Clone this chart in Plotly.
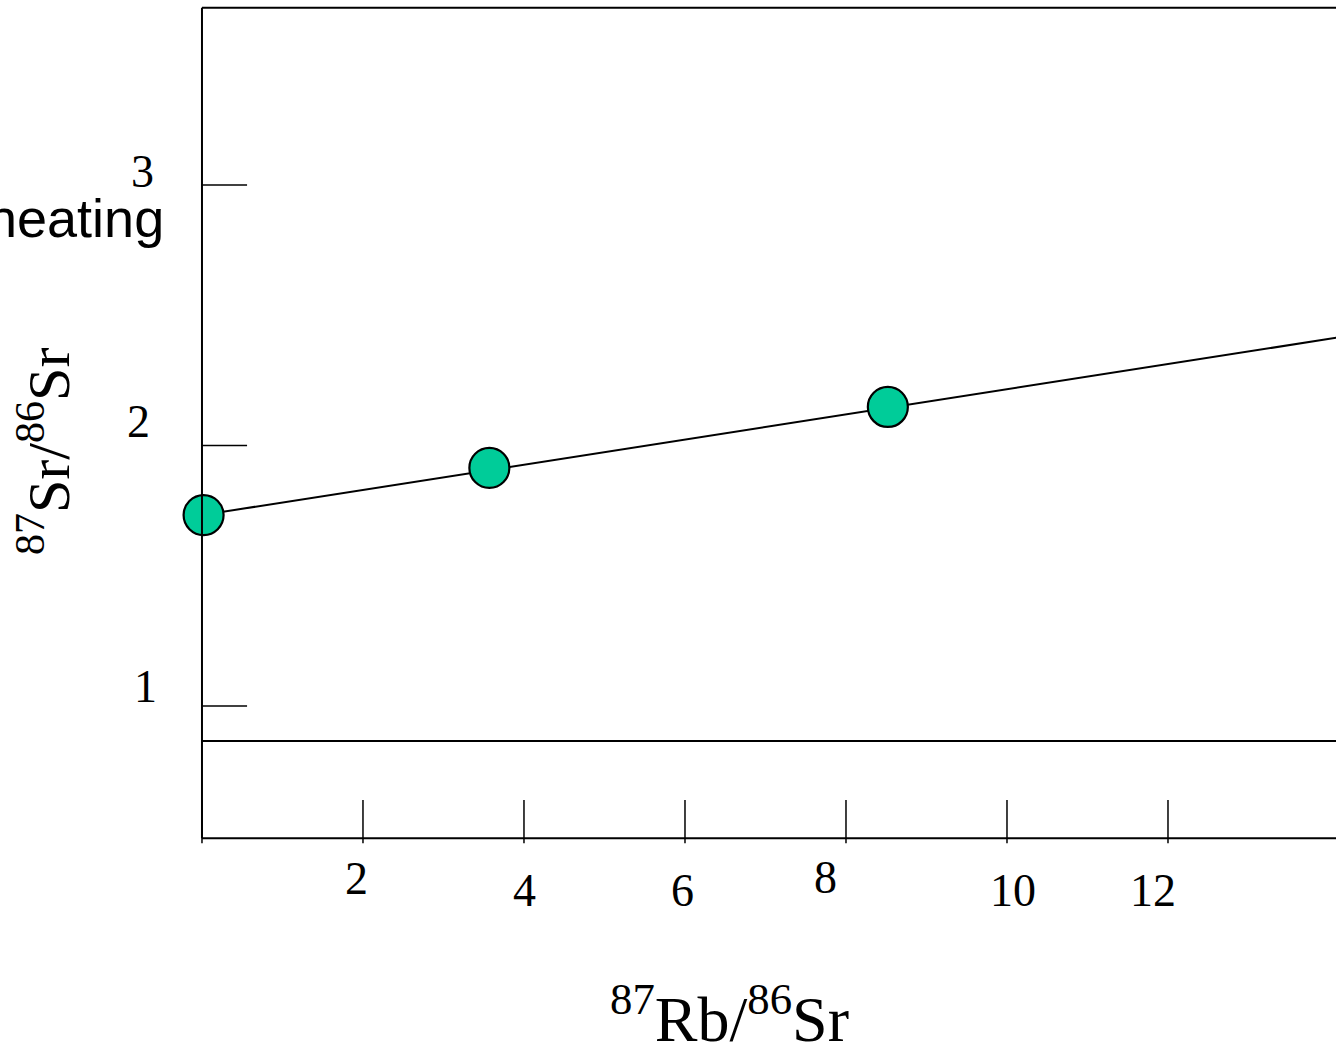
import plotly.graph_objects as go

# Data
sample_rb = [0.02, 3.57, 8.52]          # 87Rb/86Sr
sample_sr = [1.733, 1.914, 2.148]       # 87Sr/86Sr
fit_rb = [0.0, 14.1]
fit_sr = [1.733, 2.414]

x_tick_values = [0, 2, 4, 6, 8, 10, 12]
x_label_values = [2, 4, 6, 8, 10, 12]
x_label_text = ["2", "4", "6", "8", "10", "12"]
y_tick_values = [1, 2, 3]
y_label_text = ["1", "2", "3"]

# frame levels
x_axis_level = 0.493
mid_line_level = 0.866
top_level = 3.68
x_right = 14.2

# layout offsets (pixels) of the hand-placed labels
x_label_shift = [(-6, -40), (1, -52), (-2, -52), (-20, -39), (6, -52), (-15, -52)]
y_label_shift = [(-56, 20), (-63, 24), (-59, 13)]

W, H = 1336, 1051
x_range = [-2.509, 14.087]
y_range = [-0.324, 3.710]

fig = go.Figure()

fig.add_trace(go.Scatter(x=fit_rb, y=fit_sr, mode="lines",
                         line=dict(color="black", width=2), hoverinfo="skip"))
fig.add_trace(go.Scatter(x=sample_rb, y=sample_sr, mode="markers",
                         marker=dict(size=40, color="rgb(0,204,153)",
                                     line=dict(color="black", width=2.2))))

line_style = dict(color="black", width=2)
shapes = []
# left vertical axis
shapes.append(dict(type="line", xref="x", yref="y", x0=0, x1=0,
                   y0=x_axis_level, y1=top_level, line=line_style))
# top border
shapes.append(dict(type="line", xref="x", yref="y", x0=0, x1=x_right,
                   y0=top_level, y1=top_level, line=line_style))
# middle horizontal line
shapes.append(dict(type="line", xref="x", yref="y", x0=-0.01, x1=x_right,
                   y0=mid_line_level, y1=mid_line_level, line=line_style))
# bottom x axis
shapes.append(dict(type="line", xref="x", yref="y", x0=0, x1=x_right,
                   y0=x_axis_level, y1=x_axis_level, line=line_style))
# y ticks
for v in y_tick_values:
    shapes.append(dict(type="line", xref="x", yref="y", x0=0, x1=0.56,
                       y0=v, y1=v, line=dict(color="black", width=1.5)))
# x ticks
for v in x_tick_values:
    shapes.append(dict(type="line", xref="x", yref="y", x0=v, x1=v,
                       y0=x_axis_level - 0.02, y1=x_axis_level + 0.146,
                       line=dict(color="black", width=1.5)))

annotations = []
tick_font = dict(family="Liberation Serif, Times New Roman, serif", size=46, color="black")
for v, t, (dx, dy) in zip(x_label_values, x_label_text, x_label_shift):
    annotations.append(dict(x=v, y=x_axis_level, xref="x", yref="y", text=t,
                            showarrow=False, xanchor="center", yanchor="middle",
                            xshift=dx, yshift=dy, font=tick_font))
for v, t, (dx, dy) in zip(y_tick_values, y_label_text, y_label_shift):
    annotations.append(dict(x=0, y=v, xref="x", yref="y", text=t,
                            showarrow=False, xanchor="center", yanchor="middle",
                            xshift=dx, yshift=dy, font=tick_font))

title_font = dict(family="Liberation Serif, Times New Roman, serif", size=64, color="black")
annotations.append(dict(x=730 / W, y=1 - 1014 / H, xref="paper", yref="paper",
                        text="<sup>87</sup>Rb/<sup>86</sup>Sr", showarrow=False,
                        xanchor="center", yanchor="middle", font=title_font))
annotations.append(dict(x=45 / W, y=1 - 452 / H, xref="paper", yref="paper",
                        text="<sup>87</sup>Sr/<sup>86</sup>Sr", showarrow=False,
                        textangle=-90, xanchor="center", yanchor="middle",
                        font=dict(family="Liberation Serif, Times New Roman, serif", size=60, color="black")))
annotations.append(dict(x=166 / W, y=1 - 218 / H, xref="paper", yref="paper",
                        text="heating", showarrow=False,
                        xanchor="right", yanchor="middle",
                        font=dict(family="Liberation Sans, Arial, sans-serif", size=54, color="black")))

fig.update_layout(
    width=W, height=H,
    margin=dict(l=0, r=0, t=0, b=0),
    paper_bgcolor="white", plot_bgcolor="white",
    showlegend=False,
    xaxis=dict(range=x_range, visible=False, domain=[0, 1]),
    yaxis=dict(range=y_range, visible=False, domain=[0, 1]),
    shapes=shapes, annotations=annotations,
)

fig.write_html("out.html")
